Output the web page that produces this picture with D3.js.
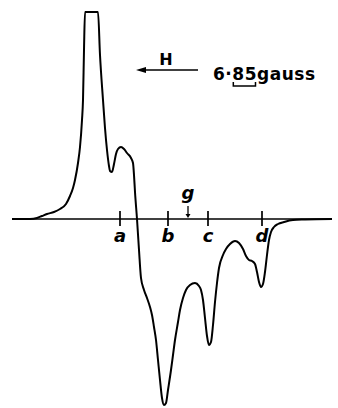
<!DOCTYPE html>
<html><head><meta charset="utf-8">
<script src="https://cdn.jsdelivr.net/npm/d3@7"></script>
<style>html,body{margin:0;padding:0;background:#fff;}svg{display:block;}</style>
</head><body>
<svg id="c" width="338" height="408"></svg>
<script>
// Field position (arbitrary units) and derivative signal (arbitrary units)
const field = [0,18,25,30,35,42,48,54,58,61,63,66,68,70,71,72,73,86,88,91,93,95,97,98,100,102,104,106,109,112,115,119,121,122,123,125,127,129,132,135,138,140,142,144,146,148,150,152,154,156,159,161,163,166,168,171,174,178,183,187,189,191,193,195,197,199,201,203,205,207,211,214,218,223,227,231,234,237,240,243,245,247,249,251,253,255,257,259,262,266,272,281,293,320];
const signal = [0,0,1,3,5,7,10,15,23,31,39,56,72,99,119,169,207,207,164,119,91,69,53,48,47,55,65,70,72,70,66,61,56,44,27,0,-31,-59,-71,-79,-88,-96,-108,-121,-141,-161,-179,-186,-184,-171,-151,-136,-121,-103,-91,-79,-71,-66,-64,-67,-71,-81,-99,-117,-126,-123,-106,-83,-64,-49,-36,-30,-25,-22,-24,-30,-37,-41,-42,-45,-53,-63,-68,-65,-53,-36,-21,-13,-8,-5,-3,-1,-0.5,0];
const markers = ["a","b","c","d"];
const markerPos = [108,156,196,250];
const gLabel = "g";
const gPos = 176;
const fieldLabel = "H";
const scaleText = ["6·","85","gauss"];

const svg = d3.select("#c");
const x = d3.scaleLinear().domain([0,320]).range([12,332]);
const y = d3.scaleLinear().domain([-189,207]).range([408,12]);
const y0 = y(0);
const font = "DejaVu Sans";

// baseline axis
svg.append("line").attr("x1",x(0)).attr("x2",x(320)).attr("y1",y0).attr("y2",y0)
  .attr("stroke","#000").attr("stroke-width",1.6);

// marker ticks
const tg = svg.append("g");
markers.forEach((m,i)=>{
  const px = x(markerPos[i]);
  tg.append("line").attr("x1",px).attr("x2",px).attr("y1",y0-8).attr("y2",y0+7)
    .attr("stroke","#000").attr("stroke-width",1.7);
  tg.append("text").attr("x",px).attr("y",y0+23).attr("text-anchor","middle")
    .attr("font-family",font).attr("font-style","italic").attr("font-weight","bold").attr("font-size",18)
    .text(m);
});

// g marker with small arrow
const gx = x(gPos);
svg.append("text").attr("x",gx).attr("y",y0-20).attr("text-anchor","middle")
  .attr("font-family",font).attr("font-style","italic").attr("font-weight","bold").attr("font-size",18).text(gLabel);
svg.append("line").attr("x1",gx).attr("x2",gx).attr("y1",y0-13).attr("y2",y0-3)
  .attr("stroke","#000").attr("stroke-width",1.3);
svg.append("path").attr("d",`M${gx-2.5},${y0-5}L${gx+2.5},${y0-5}L${gx},${y0-1}Z`).attr("fill","#000");

// curve
const line = d3.line().x((d,i)=>x(field[i])).y((d,i)=>y(signal[i])).curve(d3.curveMonotoneX);
svg.append("path").datum(signal).attr("d",line).attr("fill","none")
  .attr("stroke","#000").attr("stroke-width",2).attr("stroke-linejoin","round");

// H arrow
svg.append("line").attr("x1",140).attr("x2",198).attr("y1",70).attr("y2",70)
  .attr("stroke","#000").attr("stroke-width",1.5);
svg.append("path").attr("d","M136,70L146,67L146,73Z").attr("fill","#000");
svg.append("text").attr("x",166).attr("y",65).attr("text-anchor","middle")
  .attr("font-family",font).attr("font-weight","bold").attr("font-size",16).text(fieldLabel);

// scale text
const st = svg.append("text").attr("x",213).attr("y",80)
  .attr("font-family",font).attr("font-weight","bold").attr("font-size",17)
  .attr("textLength",102).attr("lengthAdjust","spacing");
st.append("tspan").text(scaleText[0]);
st.append("tspan").text(scaleText[1]);
st.append("tspan").text(scaleText[2]);
// underbrace under "85"
const n = st.node();
const s = n.getStartPositionOfChar(2).x, e = n.getEndPositionOfChar(3).x;
svg.append("path").attr("d",`M${s+1},82L${s+1},86L${e-1},86L${e-1},82`)
  .attr("fill","none").attr("stroke","#000").attr("stroke-width",1.5);
</script>
</body></html>
